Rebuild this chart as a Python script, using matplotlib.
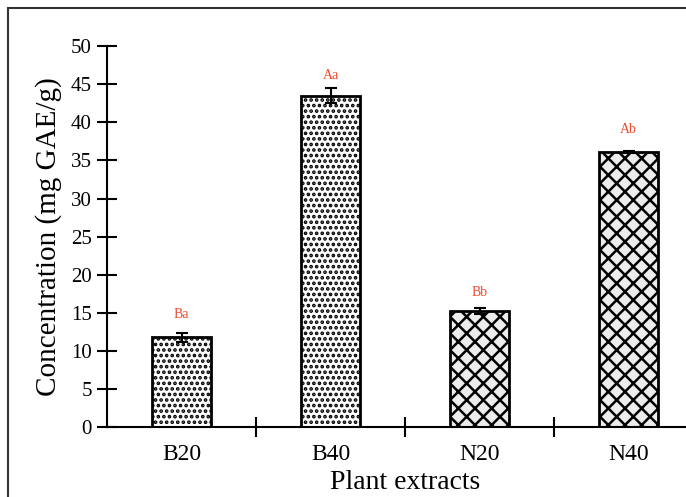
import numpy as np
import matplotlib.pyplot as plt
from matplotlib.patches import Rectangle

plt.rcParams['font.family'] = ['Liberation Serif', 'DejaVu Serif']
plt.rcParams['hatch.linewidth'] = 1.8

## data
extracts = ['B20', 'B40', 'N20', 'N40']
conc = [11.8, 43.5, 15.2, 36.1]
err = [0.6, 1.0, 0.4, 0.1]
letters = ['Ba', 'Aa', 'Bb', 'Ab']
letter_y = [14.8, 46.2, 17.6, 39.0]

fig = plt.figure(figsize=(6.86, 4.97), dpi=100)
ax = fig.add_axes([0.156, 0.141, 0.869, 0.766])

x = np.arange(len(extracts))
hatches = ['...', '...', 'xx', 'xx']
faces = ['white', 'white', '#ececec', '#ececec']
for i in range(len(extracts)):
    ax.bar(x[i], conc[i], width=0.4, color=faces[i], edgecolor='black',
           linewidth=2, hatch=hatches[i], zorder=2)
ax.errorbar(x, conc, yerr=err, fmt='none', ecolor='black', elinewidth=1.5,
            capsize=4.5, capthick=1.5, zorder=3)
for i in range(len(extracts)):
    ax.text(x[i], letter_y[i], letters[i], color='#f04a2e', fontsize=10,
            ha='center', va='center')

ax.set_xlim(-0.5, 3.5)
ax.set_ylim(0, 50)
ax.set_yticks(range(0, 51, 5))
ax.set_xticks(x)
ax.set_xticklabels(extracts, fontsize=17)
ax.set_xticks([0.5, 1.5, 2.5], minor=True)
ax.tick_params(axis='x', which='major', length=0, pad=12)
ax.tick_params(axis='x', which='minor', direction='inout', length=14, width=1.5)
ax.tick_params(axis='y', direction='inout', length=14, width=1.5, labelsize=15, pad=4)
for s in ['top', 'right']:
    ax.spines[s].set_visible(False)
for s in ['left', 'bottom']:
    ax.spines[s].set_linewidth(1.5)
ax.set_ylabel('Concentration (mg GAE/g)', fontsize=21, labelpad=6)
ax.set_xlabel('Plant extracts', fontsize=20, labelpad=4)

# outer frame
fig.patches.append(Rectangle((8/686, -0.1), 1.2, 1 - 8/497 + 0.1, transform=fig.transFigure,
                             fill=False, edgecolor='#333333', linewidth=1.5))

fig.savefig('out.png', dpi=100)
